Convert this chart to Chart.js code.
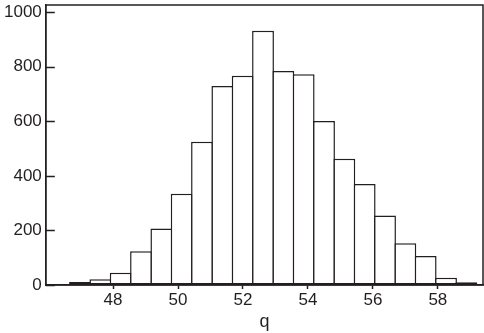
<!DOCTYPE html>
<html>
<head>
<meta charset="utf-8">
<script src="https://cdn.jsdelivr.net/npm/chart.js@4.4.0/dist/chart.umd.min.js"></script>
<style>
  html, body { margin: 0; padding: 0; background: #fff; }
  #wrap { width: 484px; height: 333px; }
</style>
</head>
<body>
<div id="wrap"><canvas id="chart"></canvas></div>
<script>
// bin centres of q (bin width 0.626)
const binCenters = [46.983, 47.609, 48.235, 48.861, 49.487, 50.113, 50.739, 51.365, 51.991, 52.617,
                    53.243, 53.869, 54.495, 55.121, 55.747, 56.373, 56.999, 57.625, 58.251, 58.877];
const counts = [11, 21, 45, 124, 207, 334, 525, 729, 767, 932,
                784, 772, 601, 463, 370, 255, 153, 106, 27, 10];
const xTicks = [48, 50, 52, 54, 56, 58];
const yTicks = [0, 200, 400, 600, 800, 1000];

const ink = '#231f20';
const font = '"Liberation Sans", Arial, sans-serif';

// box around the plot area, plus the inward y ticks
const frame = {
  id: 'frame',
  afterDraw(chart) {
    const a = chart.chartArea, ctx = chart.ctx;
    const y = chart.scales.y;
    ctx.save();
    ctx.strokeStyle = ink;
    ctx.lineWidth = 1.5;
    ctx.strokeRect(a.left, a.top, a.right - a.left, a.bottom - a.top);
    ctx.beginPath();
    yTicks.forEach(v => {
      const py = Math.round(y.getPixelForValue(v)) + 0.5;
      ctx.moveTo(a.left, py);
      ctx.lineTo(a.left + 9, py);
    });
    ctx.stroke();
    ctx.restore();
  }
};

new Chart(document.getElementById('chart'), {
  type: 'bar',
  data: {
    datasets: [{
      data: binCenters.map((x, i) => ({ x: x, y: counts[i] })),
      backgroundColor: '#ffffff',
      borderColor: ink,
      borderWidth: 1.5,
      borderSkipped: false,
      // slightly over 1 so neighbouring borders sit on top of each other
      barPercentage: 1.074,
      categoryPercentage: 1
    }]
  },
  options: {
    responsive: true,
    maintainAspectRatio: false,
    animation: false,
    layout: { padding: { top: 5, right: 1, bottom: 0, left: 0 } },
    plugins: {
      legend: { display: false },
      tooltip: { enabled: false }
    },
    scales: {
      x: {
        type: 'linear',
        offset: false,
        min: 45.93,
        max: 59.39,
        afterBuildTicks: s => { s.ticks = xTicks.map(v => ({ value: v })); },
        grid: { drawOnChartArea: false, color: ink, tickLength: 4, tickWidth: 1.5, offset: false },
        border: { color: ink, width: 1.5 },
        ticks: {
          color: ink,
          padding: 1,
          maxRotation: 0,
          font: { family: font, size: 17 }
        },
        title: {
          display: true,
          text: 'q',
          color: ink,
          padding: { top: 0, bottom: 0 },
          font: { family: font, size: 18 }
        }
      },
      y: {
        min: 0,
        max: 1026,
        afterBuildTicks: s => { s.ticks = yTicks.map(v => ({ value: v })); },
        // let the top label hang over the frame instead of pushing it down
        afterFit: s => { s.paddingTop = 0; },
        grid: { drawOnChartArea: false, drawTicks: false },
        border: { color: ink, width: 1.5 },
        ticks: {
          color: ink,
          padding: 4,
          callback: v => String(v),
          font: { family: font, size: 17 }
        }
      }
    }
  },
  plugins: [frame]
});
</script>
</body>
</html>
